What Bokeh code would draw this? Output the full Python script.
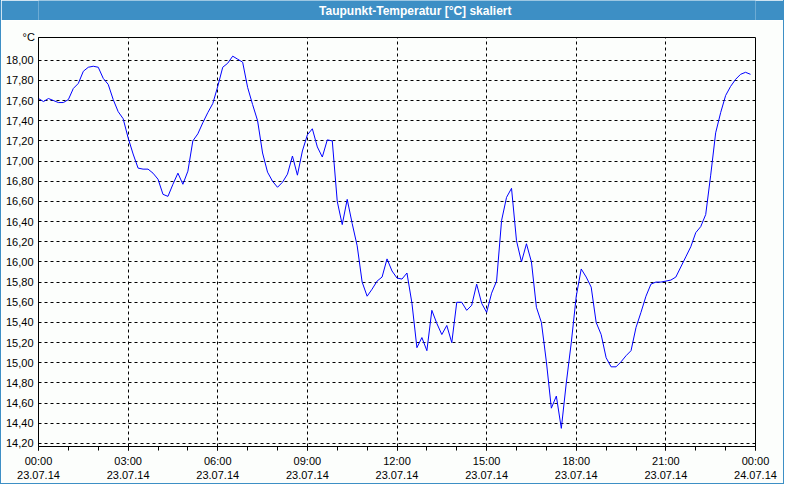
from bokeh.plotting import figure
from bokeh.models import FixedTicker, Label, Range1d, Title
from bokeh.layouts import column
from bokeh.embed import file_html
from bokeh.resources import INLINE

# ---- data ----
title_text = "Taupunkt-Temperatur [°C] skaliert"
y_unit = "°C"

# measurement times in minutes after 23.07.14 00:00 (10-minute interval)
minutes = list(range(0, 1440, 10))

dewpoint = [
    17.62, 17.59, 17.62, 17.60, 17.58, 17.58,
    17.61, 17.72, 17.77, 17.89, 17.93, 17.94,
    17.93, 17.82, 17.76, 17.61, 17.49, 17.42,
    17.23, 17.07, 16.93, 16.92, 16.92, 16.88,
    16.82, 16.67, 16.65, 16.77, 16.88, 16.77,
    16.90, 17.20, 17.27, 17.38, 17.48, 17.57,
    17.74, 17.93, 17.97, 18.04, 18.01, 17.98,
    17.73, 17.56, 17.40, 17.08, 16.89, 16.80,
    16.74, 16.79, 16.87, 17.05, 16.86, 17.10,
    17.26, 17.32, 17.14, 17.04, 17.21, 17.20,
    16.60, 16.37, 16.62, 16.38, 16.16, 15.80,
    15.66, 15.73, 15.81, 15.85, 16.03, 15.91,
    15.84, 15.83, 15.89, 15.59, 15.15, 15.25,
    15.12, 15.52, 15.39, 15.28, 15.37, 15.20,
    15.60, 15.60, 15.52, 15.57, 15.78, 15.59,
    15.50, 15.69, 15.81, 16.41, 16.64, 16.73,
    16.21, 16.00, 16.18, 16.00, 15.55, 15.40,
    15.01, 14.55, 14.67, 14.35, 14.80, 15.20,
    15.66, 15.93, 15.85, 15.75, 15.40, 15.28,
    15.05, 14.96, 14.96, 15.01, 15.07, 15.12,
    15.35, 15.50, 15.66, 15.78, 15.80, 15.80,
    15.81, 15.82, 15.85, 15.95, 16.05, 16.15,
    16.29, 16.35, 16.47, 16.86, 17.28, 17.48,
    17.65, 17.74, 17.81, 17.86, 17.88, 17.86,
]

x_tick_hours = [0, 3, 6, 9, 12, 15, 18, 21, 24]
x_tick_times = ["00:00", "03:00", "06:00", "09:00", "12:00", "15:00", "18:00", "21:00", "00:00"]
x_tick_dates = ["23.07.14"] * 8 + ["24.07.14"]
x_minor_hours = list(range(0, 25))

y_ticks = [14.2, 14.4, 14.6, 14.8, 15.0, 15.2, 15.4, 15.6, 15.8, 16.0,
           16.2, 16.4, 16.6, 16.8, 17.0, 17.2, 17.4, 17.6, 17.8, 18.0]
y_min, y_max = 14.17, 18.225

# ---- styling ----
BAR = "#3d8fc5"
BG = "#fcfefc"
FONT = "Liberation Sans"
W = 782

hours = [m / 60 for m in minutes]

# title bar
tfig = figure(width=W, height=20, x_range=Range1d(0, 1), y_range=Range1d(0, 1),
              x_axis_type=None, y_axis_type=None, toolbar_location=None,
              output_backend="svg", min_border=0)
tfig.background_fill_color = BAR
tfig.border_fill_color = BAR
tfig.outline_line_color = None
tfig.add_layout(Label(x=0.5255, y=0.5, text=title_text, text_align="center",
                      text_baseline="middle", text_color="white",
                      text_font=FONT, text_font_size="12px", text_font_style="bold"))

p = figure(width=W, height=463, x_range=Range1d(0, 24), y_range=Range1d(y_min, y_max),
           toolbar_location=None, output_backend="svg",
           min_border_left=37, min_border_right=28, min_border_top=17, min_border_bottom=34)
p.background_fill_color = BG
p.border_fill_color = BG
p.outline_line_color = "black"
p.outline_line_width = 1

p.line(hours, dewpoint, line_color="#0000ff", line_width=1)

# x axis
xa = p.xaxis[0]
xa.ticker = FixedTicker(ticks=x_tick_hours, minor_ticks=x_minor_hours)
xa.major_label_overrides = {h: f"{t}\n{d}" for h, t, d in zip(x_tick_hours, x_tick_times, x_tick_dates)}
xa.major_tick_out = 4
xa.major_tick_in = 0
xa.minor_tick_out = 4
xa.minor_tick_in = 0
xa.major_tick_line_color = "black"
xa.minor_tick_line_color = "black"
xa.axis_line_color = "black"
xa.major_label_text_font = FONT
xa.major_label_text_font_size = "11px"
xa.major_label_text_color = "black"
xa.major_label_standoff = 4

# y axis
ya = p.yaxis[0]
ya.ticker = FixedTicker(ticks=y_ticks, minor_ticks=[])
ya.major_label_overrides = {v: f"{v:.2f}".replace(".", ",") for v in y_ticks}
ya.major_tick_out = 0
ya.major_tick_in = 0
ya.minor_tick_line_color = None
ya.axis_line_color = "black"
ya.major_label_text_font = FONT
ya.major_label_text_font_size = "11px"
ya.major_label_text_color = "black"
ya.major_label_standoff = 5

for g in (p.xgrid[0], p.ygrid[0]):
    g.grid_line_color = "black"
    g.grid_line_dash = "3 3"
    g.grid_line_width = 1

p.add_layout(Title(text=y_unit, align="left", offset=-16, standoff=-11,
                   text_font=FONT, text_font_size="11px", text_font_style="normal",
                   text_color="black"), "above")

layout = column(tfig, p, spacing=0,
                styles={"border-left": f"1px solid {BAR}", "border-right": f"1px solid {BAR}",
                        "border-bottom": f"1px solid {BAR}"})
open("out.html", "w").write(file_html(layout, INLINE))
